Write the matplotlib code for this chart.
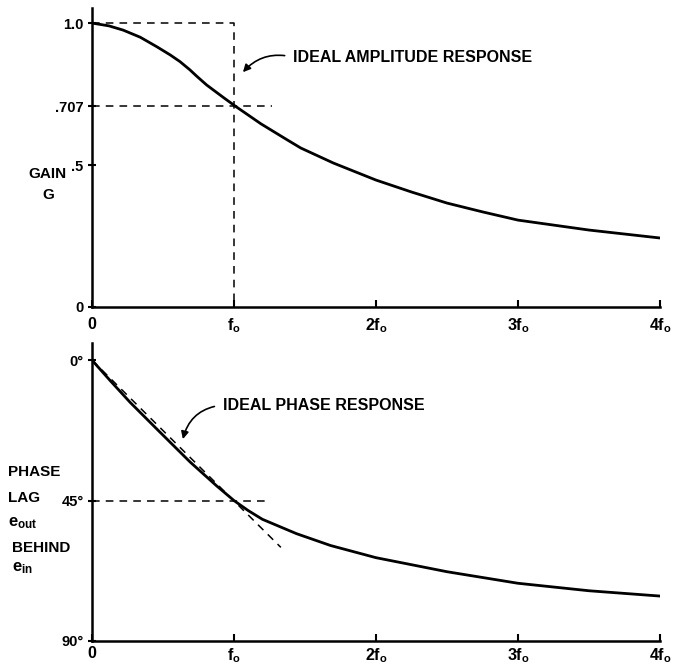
import numpy as np
import matplotlib
matplotlib.use('Agg')
import matplotlib.pyplot as plt

plt.rcParams['font.family'] = ['Liberation Sans', 'DejaVu Sans']
plt.rcParams['font.weight'] = 'bold'
plt.rcParams['mathtext.fontset'] = 'custom'
plt.rcParams['mathtext.rm'] = 'Liberation Sans:bold'
plt.rcParams['mathtext.it'] = 'Liberation Sans:bold'
plt.rcParams['mathtext.bf'] = 'Liberation Sans:bold'

# frequency in units of f0
gain_f = [0, 0.12, 0.22, 0.34, 0.455, 0.55, 0.62, 0.69, 0.737, 0.807, 0.925, 1.01,
          1.19, 1.38, 1.47, 1.7, 2.0, 2.25, 2.5, 2.75, 3.0, 3.5, 4.0]
gain = [1.0, 0.99, 0.975, 0.95, 0.917, 0.888, 0.864, 0.835, 0.813, 0.782, 0.738, 0.707,
        0.645, 0.587, 0.56, 0.507, 0.447, 0.405, 0.366, 0.335, 0.306, 0.271, 0.243]

phase_f = [0, 0.127, 0.268, 0.455, 0.69, 0.878, 1.0, 1.1, 1.2, 1.44, 1.68, 2.0, 2.5, 3.0, 3.5, 4.0]
phase = [0, 6.5, 13.5, 22.0, 32.6, 40.3, 45.0, 48.2, 51.0, 55.6, 59.4, 63.3, 67.8, 71.5, 73.9, 75.6]

# ideal (straight line) phase response
ideal_phase_f = [0, 1.33]
ideal_phase = [0, 60]

x_ticks = [0, 1, 2, 3, 4]
x_labels = ['0', r'$\mathrm{f_o}$', r'$\mathrm{2f_o}$', r'$\mathrm{3f_o}$', r'$\mathrm{4f_o}$']
gain_ticks = [0, 0.5, 0.707, 1.0]
gain_labels = ['0', '.5', '.707', '1.0']
phase_ticks = [0, 45, 90]
phase_labels = ['0°', '45°', '90°']

W, H = 674, 667
DASH = (0, (5, 4))


def px(x, y):
    return x / W, 1 - y / H


def style_axis(ax, xpad):
    for s in ['top', 'right']:
        ax.spines[s].set_visible(False)
    for s in ['left', 'bottom']:
        ax.spines[s].set_linewidth(1.8)
    ax.set_xlim(0, 4)
    ax.set_xticks(x_ticks, x_labels, fontsize=11.5)
    ax.tick_params(axis='x', direction='in', length=5, width=1.5, pad=xpad)
    ax.tick_params(axis='y', direction='inout', length=6, width=1.5, pad=3, labelsize=10.5)


def arrow(rad):
    return dict(arrowstyle='-|>', connectionstyle='arc3,rad=%s' % rad, relpos=(0, 0.5),
                lw=1.2, color='k', shrinkA=4, shrinkB=0, mutation_scale=11)


fig = plt.figure(figsize=(W / 100, H / 100), dpi=100)

# amplitude
ax1 = fig.add_axes([92 / W, 1 - 307 / H, (660 - 92) / W, (307 - 8) / H])
style_axis(ax1, 7)
ax1.set_ylim(0, 1.053)
ax1.set_yticks(gain_ticks, gain_labels)
ax1.plot(gain_f, gain, color='k', lw=2.0, solid_capstyle='round', solid_joinstyle='round')
ax1.plot([0, 1, 1], [1.0, 1.0, 0], color='k', lw=1.1, linestyle=DASH)
ax1.plot([0, 1.265], [0.707, 0.707], color='k', lw=1.1, linestyle=DASH)
ax1.annotate('IDEAL AMPLITUDE RESPONSE', xy=(1.063, 0.827), xytext=(1.415, 0.88),
             ha='left', va='center', fontsize=11.5, arrowprops=arrow(0.3))

# phase
ax2 = fig.add_axes([92 / W, 1 - 641 / H, (660 - 92) / W, (641 - 343) / H])
style_axis(ax2, 3.5)
ax2.set_ylim(90, -5.5)
ax2.set_yticks(phase_ticks, phase_labels)
ax2.plot(phase_f, phase, color='k', lw=2.0, solid_capstyle='round', solid_joinstyle='round')
ax2.plot(ideal_phase_f, ideal_phase, color='k', lw=1.1, linestyle=DASH)
ax2.plot([0, 1.25], [45, 45], color='k', lw=1.1, linestyle=DASH)
ax2.annotate('IDEAL PHASE RESPONSE', xy=(0.64, 25.3), xytext=(0.92, 14.4),
             ha='left', va='center', fontsize=11.5, arrowprops=arrow(0.35))

# axis titles
fig.text(*px(47, 174), 'GAIN', ha='center', va='center', fontsize=11)
fig.text(*px(48, 195), 'G', ha='center', va='center', fontsize=11)
fig.text(*px(8, 472), 'PHASE', ha='left', va='center', fontsize=11)
fig.text(*px(8, 498), 'LAG', ha='left', va='center', fontsize=11)
fig.text(*px(8, 523), r'$\mathrm{e_{out}}$', ha='left', va='center', fontsize=12)
fig.text(*px(12, 548), 'BEHIND', ha='left', va='center', fontsize=11)
fig.text(*px(12, 568), r'$\mathrm{e_{in}}$', ha='left', va='center', fontsize=12)

fig.savefig('out.png', dpi=100)
